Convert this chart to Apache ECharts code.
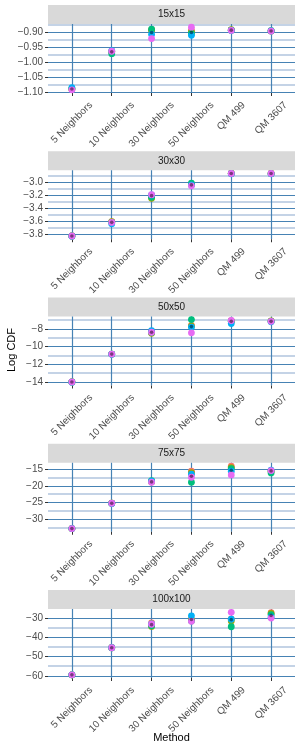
<!DOCTYPE html>
<html><head><meta charset="utf-8">
<script src="https://cdn.jsdelivr.net/npm/echarts@6/dist/echarts.min.js"></script>
<style>html,body{margin:0;padding:0;background:#fff}#c{width:300px;height:750px}</style>
</head><body><div id="c"></div>
<script>
// ---------- data ----------
const categories = ['5 Neighbors', '10 Neighbors', '30 Neighbors', '50 Neighbors', 'QM 499', 'QM 3607'];
const panelNames = ['15x15', '30x30', '50x50', '75x75', '100x100'];
const groupNames = ['Run 1', 'Run 2', 'Run 3', 'Run 4', 'Run 5'];
const groupColors = ['#F8766D', '#A3A500', '#00BF7D', '#00B0F6', '#E76BF3'];

// 15x15
const red15   = [-1.089, -0.965, -0.893, -0.895, -0.894, -0.897];
const olive15 = [-1.089, -0.966, -0.894, -0.900, -0.892, -0.896];
const green15 = [-1.088, -0.972, -0.891, -0.905, -0.894, -0.897];
const blue15  = [-1.085, -0.962, -0.908, -0.911, -0.895, -0.896];
const pink15  = [-1.092, -0.964, -0.922, -0.884, -0.895, -0.897];
const mean15  = [-1.089, -0.966, -0.902, -0.902, -0.894, -0.897];
// 30x30
const red30   = [-3.83, -3.615, -3.21, -3.03, -2.870, -2.870];
const olive30 = [-3.83, -3.608, -3.25, -3.04, -2.868, -2.870];
const green30 = [-3.83, -3.620, -3.235, -3.02, -2.870, -2.872];
const blue30  = [-3.832, -3.640, -3.20, -3.045, -2.875, -2.875];
const pink30  = [-3.83, -3.622, -3.195, -3.06, -2.870, -2.870];
const mean30  = [-3.83, -3.620, -3.21, -3.045, -2.870, -2.871];
// 50x50
const red50   = [-14.0, -10.85, -8.35, -7.60, -7.10, -7.15];
const olive50 = [-14.0, -10.85, -8.50, -7.70, -7.10, -7.10];
const green50 = [-14.0, -10.85, -8.40, -6.95, -7.15, -7.15];
const blue50  = [-14.02, -10.87, -8.20, -7.80, -7.40, -7.20];
const pink50  = [-14.0, -10.85, -8.38, -8.45, -7.05, -7.15];
const mean50  = [-14.0, -10.85, -8.38, -7.74, -7.15, -7.15];
// 75x75
const red75   = [-32.8, -25.2, -18.7, -15.6, -14.1, -15.5];
const olive75 = [-32.8, -25.2, -18.8, -16.0, -14.5, -15.6];
const green75 = [-32.8, -25.2, -18.4, -18.9, -14.8, -16.1];
const blue75  = [-32.8, -25.3, -18.6, -16.5, -15.6, -15.3];
const pink75  = [-32.8, -25.2, -18.9, -17.4, -16.7, -15.4];
const mean75  = [-32.8, -25.2, -18.8, -17.1, -15.3, -15.5];
// 100x100
const red100   = [-59.5, -45.4, -32.5, -30.5, -30.5, -27.2];
const olive100 = [-59.5, -45.4, -34.3, -31.0, -31.5, -27.6];
const green100 = [-59.5, -45.4, -34.0, -31.5, -34.5, -28.2];
const blue100  = [-59.5, -45.4, -33.0, -28.8, -30.6, -29.5];
const pink100  = [-59.5, -45.4, -33.2, -31.7, -27.0, -30.0];
const mean100  = [-59.5, -45.4, -33.4, -30.7, -30.8, -28.6];

const yLimits = [[-1.1024, -0.8736], [-3.88, -2.82], [-14.4, -6.6], [-33.74, -13.06], [-61.13, -25.27]];
const majorTicks = [
  [-1.10, -1.05, -1.00, -0.95, -0.90],
  [-3.8, -3.6, -3.4, -3.2, -3.0],
  [-14, -12, -10, -8],
  [-30, -25, -20, -15],
  [-60, -50, -40, -30]
];
const majorLabels = [
  ['\u22121.10', '\u22121.05', '\u22121.00', '\u22120.95', '\u22120.90'],
  ['\u22123.8', '\u22123.6', '\u22123.4', '\u22123.2', '\u22123.0'],
  ['\u221214', '\u221212', '\u221210', '\u22128'],
  ['\u221230', '\u221225', '\u221220', '\u221215'],
  ['\u221260', '\u221250', '\u221240', '\u221230']
];
const minorTicks = [
  [-1.075, -1.025, -0.975, -0.925, -0.875],
  [-3.7, -3.5, -3.3, -3.1, -2.9],
  [-13, -11, -9, -7],
  [-32.5, -27.5, -22.5, -17.5],
  [-55, -45, -35]
];

const panelValues = [
  [red15, olive15, green15, blue15, pink15],
  [red30, olive30, green30, blue30, pink30],
  [red50, olive50, green50, blue50, pink50],
  [red75, olive75, green75, blue75, pink75],
  [red100, olive100, green100, blue100, pink100]
];
const panelMeans = [mean15, mean30, mean50, mean75, mean100];

// ---------- layout ----------
const FONT = '"Liberation Sans", Arial, Helvetica, sans-serif';
const L = 48, W = 247, STEP = 146.25, PH = 69, STRIP = 19;
const catIdx = categories.map((c, i) => i);

// rotated x labels: centred horizontally on the tick, top edge at a fixed distance below the panel
const mctx = document.createElement('canvas').getContext('2d');
mctx.font = '10px ' + FONT;
const labW = categories.map(c => mctx.measureText(c).width);
const TOPC = 10.5;
const LAB_M = TOPC + 0.354 * Math.min.apply(null, labW) - 0.5;
const xRich = {};
categories.forEach((c, k) => {
  const b = Math.max(0, (TOPC + 0.354 * labW[k] - LAB_M) / 1.414);
  xRich['c' + k] = { padding: [2 * b, 2 * b, 0, 0], fontSize: 10, color: '#4d4d4d', fontFamily: FONT };
});

const grids = [], xAxes = [], yAxes = [], series = [], graphics = [];

panelNames.forEach((name, i) => {
  const top = 24 + STEP * i;
  grids.push({ left: L, top: top, width: W, height: PH, containLabel: false, outerBoundsMode: 'none' });

  xAxes.push({
    type: 'value', gridIndex: i, min: -0.6, max: 5.6, position: 'bottom', z: 1,
    axisLine: { show: false, onZero: false },
    axisTick: { show: true, length: 3, customValues: catIdx, lineStyle: { color: '#333333', width: 1 } },
    axisLabel: {
      show: true, customValues: catIdx, rotate: 45, align: 'center', verticalAlign: 'middle',
      margin: LAB_M, fontSize: 10, color: '#4d4d4d', fontFamily: FONT,
      formatter: v => { const k = Math.round(v); return '{c' + k + '|' + categories[k] + '}'; },
      rich: xRich
    },
    splitLine: { show: true, lineStyle: { color: '#4682b4', width: 1.2 } }
  });

  const ticks = majorTicks[i], labs = majorLabels[i];
  // minor y axis (grid lines only)
  yAxes.push({
    type: 'value', gridIndex: i, min: yLimits[i][0], max: yLimits[i][1], position: 'left', z: 0,
    axisLine: { show: false, onZero: false },
    axisTick: { show: false, customValues: minorTicks[i] },
    axisLabel: { show: false },
    splitLine: { show: true, lineStyle: { color: '#b0c4de', width: 1.5 } }
  });
  // major y axis
  yAxes.push({
    type: 'value', gridIndex: i, min: yLimits[i][0], max: yLimits[i][1], position: 'left', z: 1,
    axisLine: { show: false, onZero: false },
    axisTick: { show: true, length: 3, customValues: ticks, lineStyle: { color: '#333333', width: 1 } },
    axisLabel: {
      show: true, customValues: ticks, margin: 5, fontSize: 10, color: '#4d4d4d', fontFamily: FONT,
      formatter: v => { const k = ticks.findIndex(t => Math.abs(t - v) < 1e-9); return k >= 0 ? labs[k] : ''; }
    },
    splitLine: { show: true, lineStyle: { color: '#4682b4', width: 1 } }
  });

  panelValues[i].forEach((vals, g) => {
    series.push({
      type: 'scatter', name: groupNames[g], xAxisIndex: i, yAxisIndex: 2 * i + 1,
      symbol: 'circle', symbolSize: 6.8, silent: true, z: 3,
      itemStyle: { color: groupColors[g], opacity: 1 },
      data: vals.map((v, k) => [catIdx[k], v])
    });
  });
  series.push({
    type: 'scatter', name: 'Mean', xAxisIndex: i, yAxisIndex: 2 * i + 1,
    symbol: 'circle', symbolSize: 3.6, silent: true, z: 4,
    itemStyle: { color: 'rgba(0,0,0,0.6)' },
    data: panelMeans[i].map((v, k) => [catIdx[k], v])
  });

  // strip
  const sTop = 5 + STEP * i;
  graphics.push({ type: 'rect', shape: { x: L, y: sTop, width: W, height: STRIP }, style: { fill: '#d9d9d9' }, silent: true });
  graphics.push({
    type: 'text', x: L + W / 2, y: sTop + STRIP / 2, silent: true,
    style: { text: name, fontSize: 10, fontFamily: FONT, fill: '#1a1a1a', align: 'center', verticalAlign: 'middle' }
  });
});

graphics.push({
  type: 'text', x: 11.5, y: 350, rotation: Math.PI / 2, silent: true,
  style: { text: 'Log CDF', fontSize: 11, fontFamily: FONT, fill: '#000', align: 'center', verticalAlign: 'middle' }
});
graphics.push({
  type: 'text', x: L + W / 2, y: 738, silent: true,
  style: { text: 'Method', fontSize: 11, fontFamily: FONT, fill: '#000', align: 'center', verticalAlign: 'middle' }
});

const chart = echarts.init(document.getElementById('c'), null, { renderer: 'canvas' });
chart.setOption({
  animation: false,
  backgroundColor: '#ffffff',
  textStyle: { fontFamily: FONT },
  grid: grids, xAxis: xAxes, yAxis: yAxes, series: series,
  graphic: graphics
});
</script></body></html>
